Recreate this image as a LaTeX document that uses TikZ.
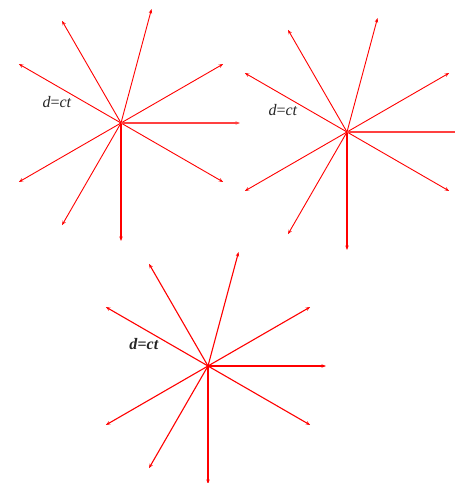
\documentclass[tikz,border=0pt]{standalone}
\usepackage{fontspec}
\setmainfont{Liberation Serif}
\usetikzlibrary{arrows.meta}
\begin{document}
\begin{tikzpicture}[x=1pt,y=1pt,
  ray/.style={draw=red, line width=0.9pt, -{Stealth[length=4.5pt,width=3.4pt]}},
  vray/.style={ray, line width=1.1pt},
  thickray/.style={ray, draw=red!75, line width=1.2pt},
  lbl/.style={font=\fontsize{16}{18}\selectfont, text=black!85, inner sep=0pt}]
\useasboundingbox (0,0) rectangle (455,483);
\clip (0,0) rectangle (455,483);
% star 1
\coordinate (c1) at (121,360);
\foreach \a in {30,75,120,150,210,240,330} \draw[ray] (c1) -- ++(\a:118) coordinate (e1-\a);
\draw[vray] (c1) -- ++(270:118) coordinate (e1-270);
\draw[thickray] (c1) -- ++(0:119) coordinate (e1-0);
\node[lbl] (l1) at (57,381) {\textit{d}=\textit{ct}};
% star 2
\coordinate (c2) at (347,351);
\foreach \a in {30,75,120,150,210,240,330} \draw[ray] (c2) -- ++(\a:118) coordinate (e2-\a);
\draw[vray] (c2) -- ++(270:118) coordinate (e2-270);
\draw[thickray] (c2) -- ++(0:119) coordinate (e2-0);
\node[lbl] (l2) at (283,373) {\textit{d}=\textit{ct}};
% star 3
\coordinate (c3) at (208,117);
\foreach \a in {0,30,75,120,150,210,240,270,330} \draw[ray, line width=1.1pt] (c3) -- ++(\a:118) coordinate (e3-\a);
\node[lbl, font=\fontsize{16}{18}\selectfont\bfseries] (l3) at (144,139) {\textit{d}=\textit{ct}};
\end{tikzpicture}
\end{document}
